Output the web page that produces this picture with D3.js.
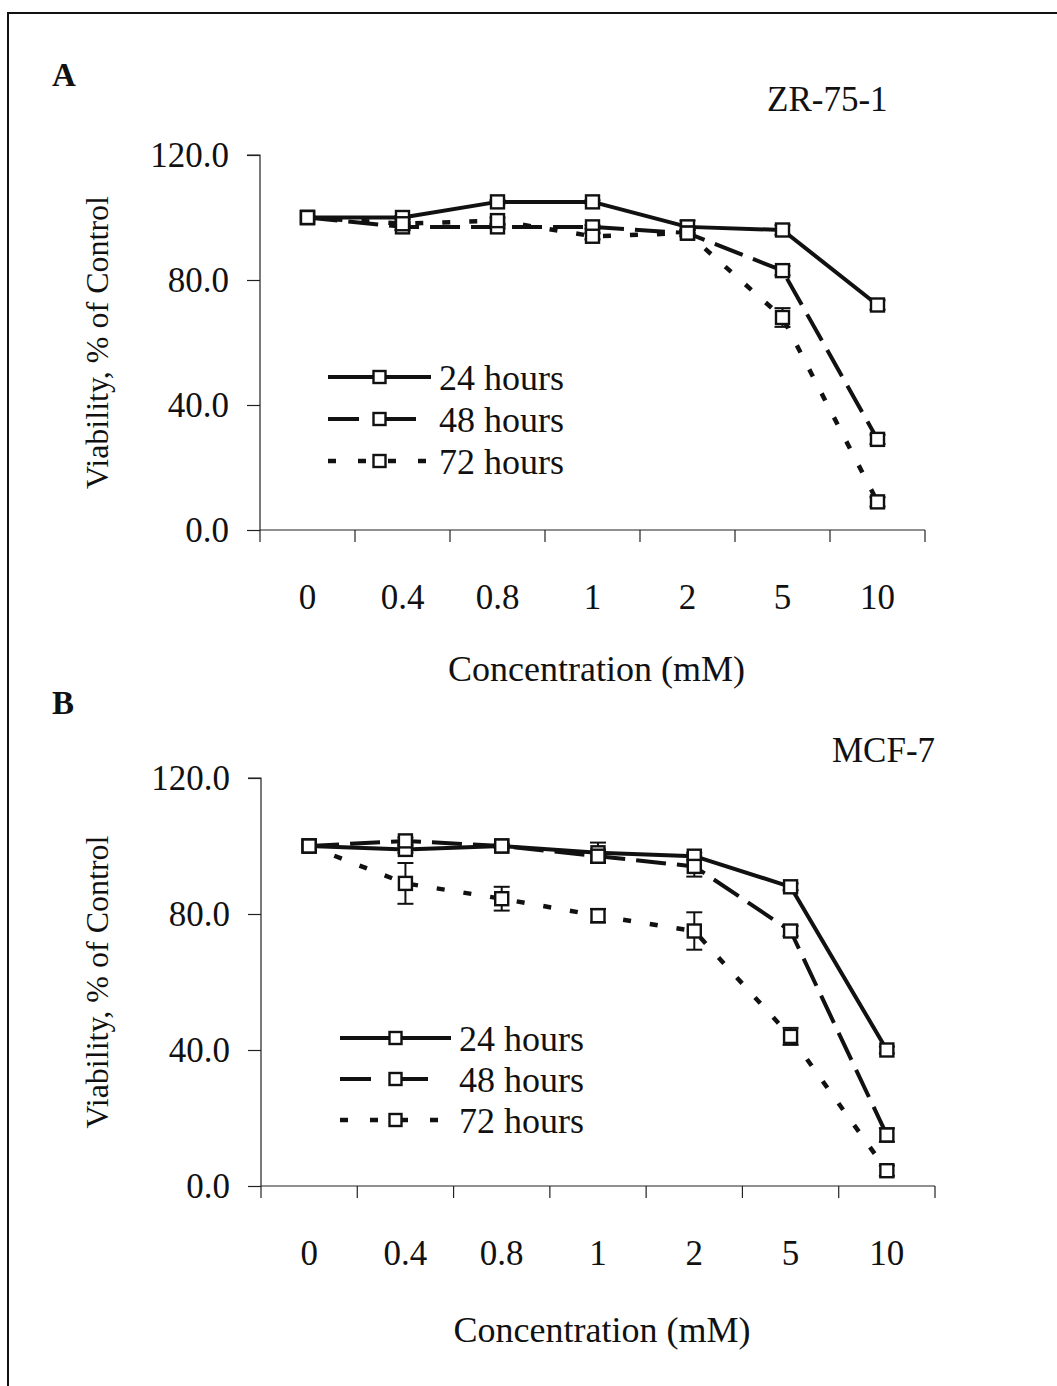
<!DOCTYPE html>
<html>
<head>
<meta charset="utf-8">
<script src="https://cdn.jsdelivr.net/npm/d3@7"></script>
<style>
  body { margin: 0; background: #fff; }
  svg { display: block; }
  text { font-family: "Liberation Serif", "Times New Roman", serif; fill: #111; }
</style>
</head>
<body>
<svg id="chart" width="1057" height="1386"></svg>
<script>
// ---------- data ----------
const categories = ["0", "0.4", "0.8", "1", "2", "5", "10"];
const seriesNames = ["24 hours", "48 hours", "72 hours"];
const yTicks = [0, 40, 80, 120];

// Panel A: ZR-75-1
const zr24 = [100, 100, 105, 105, 97, 96, 72];
const zr48 = [100, 97, 97, 97, 95, 83, 29];
const zr72 = [100, 98, 99, 94, 95, 68, 9];
const zr24err = [0, 0.5, 0.5, 0.5, 2, 1.5, 1.5];
const zr48err = [0, 1, 0.5, 0.5, 1, 1.5, 1.5];
const zr72err = [0, 0.5, 1, 1, 1, 3, 1.5];

// Panel B: MCF-7
const mcf24 = [100, 99, 100, 98, 97, 88, 40];
const mcf48 = [100, 101.5, 100, 97, 94, 75, 15];
const mcf72 = [100, 89, 84.5, 79.5, 75, 44, 4.5];
const mcf24err = [0, 1, 0.5, 3, 1, 1, 1];
const mcf48err = [0, 1, 0.5, 1.5, 3, 1.5, 2];
const mcf72err = [0, 6, 3.5, 2, 5.5, 2.5, 1.5];

// ---------- drawing ----------
const svg = d3.select("#chart");
const FONT = 35;

// outer frame (left + top visible, right/bottom beyond the picture)
svg.append("rect").attr("x", 8).attr("y", 13).attr("width", 1100).attr("height", 1400)
  .attr("fill", "none").attr("stroke", "#111").attr("stroke-width", 2);

const styles = [
  { dash: null, legDash: null, width: 4 },
  { dash: "30,11", legDash: "31,26", width: 4 },
  { dash: "8,19", legDash: "8,22", width: 4.5 }
];

function panel(cfg) {
  const x = d3.scaleBand().domain(categories).range([cfg.x0, cfg.x1]).paddingInner(0).paddingOuter(0);
  const y = d3.scaleLinear().domain([0, 120]).range([cfg.y0, cfg.y1]);
  const g = svg.append("g");

  // y axis
  const yAx = g.append("g").attr("transform", `translate(${cfg.x0},0)`)
    .call(d3.axisLeft(y).tickValues(yTicks).tickSize(13).tickPadding(18).tickFormat(d3.format(".1f")));
  yAx.select(".domain").attr("stroke", "#222").attr("stroke-width", 1.2).attr("d", `M-13,${y(120)}H0V${y(0)}`);
  yAx.selectAll(".tick line").attr("stroke", "#222").attr("stroke-width", 1.2);
  yAx.selectAll(".tick text").attr("font-size", FONT).attr("font-family", "Liberation Serif").attr("fill", "#111");

  // x axis
  const xAx = g.append("g").attr("transform", `translate(0,${cfg.y0})`)
    .call(d3.axisBottom(x).tickSize(0).tickPadding(cfg.xPad));
  xAx.select(".domain").attr("stroke", "#222").attr("stroke-width", 1.2).attr("d", `M${cfg.x0},0H${cfg.x1}`);
  xAx.selectAll(".tick text").attr("font-size", FONT).attr("font-family", "Liberation Serif").attr("fill", "#111");
  // tick marks at band boundaries
  const bounds = categories.map(c => x(c)).concat([cfg.x1]);
  g.selectAll(".xb").data(bounds).enter().append("line")
    .attr("x1", d => d).attr("x2", d => d)
    .attr("y1", cfg.y0).attr("y2", cfg.y0 + 12)
    .attr("stroke", "#222").attr("stroke-width", 1.2);

  const cx = c => x(c) + x.bandwidth() / 2;
  const line = d3.line().x((d, i) => cx(categories[i])).y(d => y(d));

  // series lines
  cfg.series.forEach((vals, k) => {
    g.append("path").datum(vals).attr("d", line)
      .attr("fill", "none").attr("stroke", "#111")
      .attr("stroke-width", styles[k].width)
      .attr("stroke-dasharray", styles[k].dash)
      .attr("stroke-linejoin", "round");
  });
  // error bars
  cfg.series.forEach((vals, k) => {
    const errs = cfg.errs[k];
    vals.forEach((v, i) => {
      const e = errs[i];
      if (!e) return;
      const px = cx(categories[i]);
      g.append("line").attr("x1", px).attr("x2", px).attr("y1", y(v - e)).attr("y2", y(v + e))
        .attr("stroke", "#111").attr("stroke-width", 2);
      [v - e, v + e].forEach(b => {
        g.append("line").attr("x1", px - 8).attr("x2", px + 8).attr("y1", y(b)).attr("y2", y(b))
          .attr("stroke", "#111").attr("stroke-width", 2);
      });
    });
  });
  // markers
  cfg.series.forEach((vals, k) => {
    g.selectAll(null).data(vals).enter().append("rect")
      .attr("x", (d, i) => cx(categories[i]) - 6.5).attr("y", d => y(d) - 6.5)
      .attr("width", 13).attr("height", 13)
      .attr("fill", "#fff").attr("stroke", "#111").attr("stroke-width", 2.4);
  });

  // axis titles
  g.append("text").attr("x", (cfg.x0 + cfg.x1) / 2 + 4).attr("y", cfg.xTitleY)
    .attr("text-anchor", "middle").attr("font-size", 36).text("Concentration (mM)");
  g.append("text").attr("transform", `translate(${cfg.yTitleX},${(cfg.y0 + cfg.y1) / 2}) rotate(-90)`)
    .attr("text-anchor", "middle").attr("font-size", 32).text("Viability, % of Control");

  // panel letter & cell line
  g.append("text").attr("x", 52).attr("y", cfg.letterY).attr("font-size", 33)
    .attr("font-weight", "bold").text(cfg.letter);
  g.append("text").attr("x", cfg.nameX).attr("y", cfg.nameY).attr("font-size", 35).text(cfg.name);

  // legend
  seriesNames.forEach((name, k) => {
    const ly = cfg.legY + k * cfg.legStep;
    g.append("line").attr("x1", cfg.legX0).attr("x2", cfg.legX1).attr("y1", ly).attr("y2", ly)
      .attr("stroke", "#111").attr("stroke-width", styles[k].width)
      .attr("stroke-dasharray", styles[k].legDash);
    const mx = (cfg.legX0 + cfg.legX1) / 2;
    g.append("rect").attr("x", mx - 6).attr("y", ly - 6).attr("width", 12).attr("height", 12)
      .attr("fill", "#fff").attr("stroke", "#111").attr("stroke-width", 2.4);
    g.append("text").attr("x", cfg.legX1 + 8).attr("y", ly + 13).attr("font-size", 36).text(name);
  });
}

panel({
  x0: 260, x1: 925, y0: 530, y1: 155,
  series: [zr24, zr48, zr72], errs: [zr24err, zr48err, zr72err],
  xPad: 54, xTitleY: 681, yTitleX: 108,
  letter: "A", letterY: 86, name: "ZR-75-1", nameX: 767, nameY: 111,
  legX0: 328, legX1: 431, legY: 377, legStep: 42
});

panel({
  x0: 261, x1: 935, y0: 1186, y1: 778,
  series: [mcf24, mcf48, mcf72], errs: [mcf24err, mcf48err, mcf72err],
  xPad: 54, xTitleY: 1342, yTitleX: 108,
  letter: "B", letterY: 714, name: "MCF-7", nameX: 832, nameY: 762,
  legX0: 340, legX1: 451, legY: 1038, legStep: 41
});
</script>
</body>
</html>
